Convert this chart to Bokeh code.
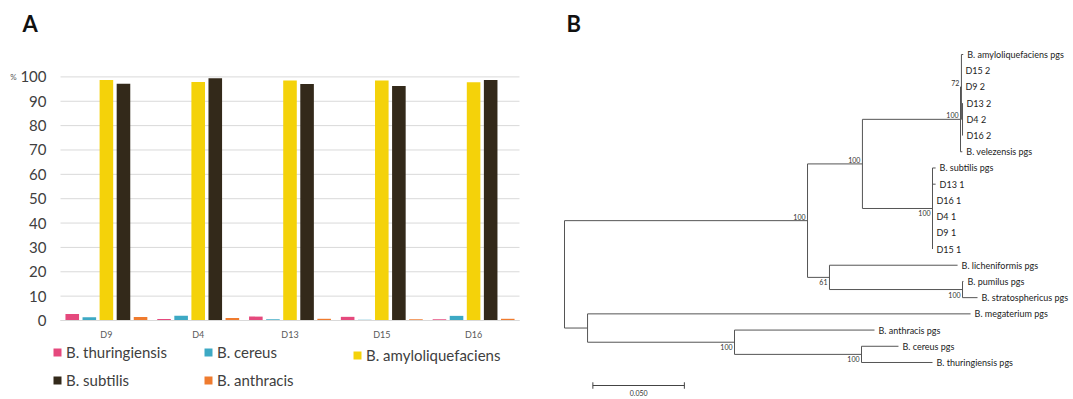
import re
from bokeh.plotting import figure
from bokeh.layouts import row
from bokeh.models import (Range1d, FixedTicker, Legend, LegendItem, Label,
                          ColumnDataSource)
from bokeh.core.properties import value
from bokeh.embed import file_html
from bokeh.resources import INLINE

# ---------------- Panel A data ----------------
samples = ["D9", "D4", "D13", "D15", "D16"]
species = ["B. thuringiensis", "B. cereus", "B. amyloliquefaciens",
           "B. subtilis", "B. anthracis"]
thuringiensis = [2.7, 0.6, 1.6, 1.5, 0.5]
cereus = [1.3, 1.9, 0.5, 0.3, 1.9]
amyloliquefaciens = [98.7, 97.9, 98.5, 98.5, 97.8]
subtilis = [97.2, 99.4, 97.1, 96.3, 98.7]
anthracis = [1.4, 1.0, 0.7, 0.5, 0.7]
y_ticks = [0, 10, 20, 30, 40, 50, 60, 70, 80, 90, 100]

series = [thuringiensis, cereus, amyloliquefaciens, subtilis, anthracis]
colors = ["#E5497D", "#3DA9C4", "#F4D20A", "#33291A", "#EF7B2E"]

# ---------------- Panel B data (Newick, branch lengths) ----------------
newick = ("((((('B. amyloliquefaciens pgs':0.001,'D15 2':0,'D9 2':0,"
          "('D13 2':0,'D4 2':0,'D16 2':0):0.0006)72:0.0005,'B. velezensis pgs':0.001)100:0.0536,"
          "('B. subtilis pgs':0.0017,'D13 1':0.0017,'D16 1':0,'D4 1':0,'D9 1':0,'D15 1':0)100:0.0383)100:0.030,"
          "('B. licheniformis pgs':0.070,('B. pumilus pgs':0.0005,'B. stratosphericus pgs':0.0082)100:0.0727)61:0.012)100:0.1328,"
          "('B. megaterium pgs':0.2093,('B. anthracis pgs':0.0765,"
          "('B. cereus pgs':0.0202,'B. thuringiensis pgs':0.0388)100:0.0694)100:0.0803):0.0126);")
support_side = ["above", "above", "above", "above", "below", "below", "below", "below", "below"]
scale_length = 0.05
scale_text = "0.050"

FONT = "Lato"

# ================= Panel A =================
WA, HA = 545, 399
left_px, right_px = 60, 519          # plot area of the bar chart
zero_px, top100_px = 320, 76.4
pxx = (right_px - left_px) / len(samples)
pxy = (zero_px - top100_px) / 100.0
pA = figure(width=WA, height=HA, output_backend="svg", toolbar_location=None,
            x_range=Range1d(-left_px / pxx, len(samples) + (WA - right_px) / pxx),
            y_range=Range1d(-(HA - zero_px) / pxy, 100 + top100_px / pxy),
            min_border=0, min_border_left=0, min_border_right=0,
            min_border_top=0, min_border_bottom=0)
pA.outline_line_color = None
pA.grid.visible = False

# horizontal gridlines over the plot area only
pA.segment(x0=[0] * len(y_ticks), x1=[len(samples)] * len(y_ticks), y0=y_ticks, y1=y_ticks,
           line_color="#D9D9D9", line_width=1, level="underlay")

n = len(species)
step, width = 0.186, 0.148
renderers = []
for k, (vals, col) in enumerate(zip(series, colors)):
    xs = [i + 0.5 + (k - (n - 1) / 2) * step for i in range(len(samples))]
    src = ColumnDataSource(dict(x=xs, top=vals))
    r = pA.vbar(x="x", top="top", width=width, bottom=0, source=src,
                fill_color=col, line_color=None)
    renderers.append(r)

pA.yaxis.fixed_location = 0
pA.yaxis.ticker = FixedTicker(ticks=y_ticks)
pA.yaxis.axis_line_color = None
pA.yaxis.major_tick_line_color = None
pA.yaxis.minor_tick_line_color = None
pA.yaxis.major_tick_out = 0
pA.yaxis.major_tick_in = 0
pA.yaxis.major_label_standoff = 14
pA.yaxis.major_label_text_font = FONT
pA.yaxis.major_label_text_font_size = "15px"
pA.yaxis.major_label_text_color = "#404040"

pA.xaxis.fixed_location = 0
pA.xaxis.bounds = (0, len(samples))
pA.xaxis.ticker = FixedTicker(ticks=[i + 0.5 for i in range(len(samples))])
pA.xaxis.major_label_overrides = {i + 0.5: s for i, s in enumerate(samples)}
pA.xaxis.axis_line_color = "#D9D9D9"
pA.xaxis.major_tick_line_color = None
pA.xaxis.minor_tick_line_color = None
pA.xaxis.major_tick_out = 0
pA.xaxis.major_tick_in = 0
pA.xaxis.major_label_standoff = 8
pA.xaxis.major_label_text_font = FONT
pA.xaxis.major_label_text_font_size = "9px"
pA.xaxis.major_label_text_color = "#595959"

# legends (three columns); location = bottom-left corner, px from frame bottom-left
cols = [[0, 3], [1, 4], [2]]
col_x = [52, 203, 352]
for ci, idxs in enumerate(cols):
    items = [LegendItem(label=species[i], renderers=[renderers[i]]) for i in idxs]
    bottom = 10.5 if len(idxs) == 2 else 35.5
    lg = Legend(items=items, location=(col_x[ci], bottom), orientation="vertical",
                glyph_width=10, glyph_height=10, label_height=15, spacing=10,
                label_standoff=4, padding=0, margin=0,
                border_line_alpha=0, background_fill_alpha=0,
                label_text_font=FONT, label_text_font_size="15px",
                label_text_color="#404040")
    pA.add_layout(lg, "center")

pA.add_layout(Label(x=(22 - left_px) / pxx, y=(zero_px - 9) / pxy, text="A", text_font=FONT,
                    text_font_size="22px", text_font_style="bold", text_baseline="top",
                    text_color="#111111"))
pA.add_layout(Label(x=(13 - left_px) / pxx, y=100, text="%", text_font=FONT,
                    text_font_size="8px", text_baseline="middle", text_align="center",
                    text_color="#595959"))

# ================= Panel B =================
def parse_newick(s):
    pos = 0

    def node():
        nonlocal pos
        children = []
        if s[pos] == "(":
            pos += 1
            while True:
                children.append(node())
                if s[pos] == ",":
                    pos += 1
                elif s[pos] == ")":
                    pos += 1
                    break
                else:
                    raise ValueError("bad newick at %d" % pos)
        if s[pos] == "'":
            end = s.index("'", pos + 1)
            label = s[pos + 1:end]
            pos = end + 1
        else:
            m = re.match(r"[^:,();]*", s[pos:])
            label = m.group(0)
            pos += len(label)
        length = 0.0
        if s[pos] == ":":
            pos += 1
            m = re.match(r"[0-9.eE+-]+", s[pos:])
            length = float(m.group(0))
            pos += len(m.group(0))
        return {"label": label, "length": length, "children": children}

    return node()

tree = parse_newick(newick)
tips, internals = [], []

def layout(nd, x0):
    nd["x"] = x0 + nd["length"]
    if nd["children"]:
        internals.append(nd)
        for c in nd["children"]:
            layout(c, nd["x"])
        nd["y"] = (nd["children"][0]["y"] + nd["children"][-1]["y"]) / 2
    else:
        nd["y"] = len(tips)
        tips.append(nd)

tree["length"] = 0.0
layout(tree, 0.0)

PXU = 1830.0   # px per unit branch length
PXT = 16.21    # px per tip row
root_px, top_px = 19, 54
WB, HB = 528, 399
pB = figure(width=WB, height=HB, output_backend="svg", toolbar_location=None,
            x_range=Range1d(-root_px / PXU, (WB - root_px) / PXU),
            y_range=Range1d((HB - top_px) / PXT, -top_px / PXT),
            min_border=0, min_border_left=0, min_border_right=0,
            min_border_top=0, min_border_bottom=0)
pB.axis.visible = False
pB.grid.visible = False
pB.outline_line_color = None

x0s, y0s, x1s, y1s = [], [], [], []
for nd in internals:
    x0s.append(nd["x"]); y0s.append(nd["children"][0]["y"])
    x1s.append(nd["x"]); y1s.append(nd["children"][-1]["y"])
    for c in nd["children"]:
        x0s.append(nd["x"]); y0s.append(c["y"])
        x1s.append(c["x"]); y1s.append(c["y"])
pB.segment(x0=x0s, y0=y0s, x1=x1s, y1=y1s, line_color="#555555", line_width=1)

pB.text(x=[t["x"] for t in tips], y=[t["y"] for t in tips], text=[t["label"] for t in tips],
        x_offset=4, text_baseline="middle", text_align="left",
        text_font=value(FONT), text_font_size="9px", text_color="#222222")

sup = [nd for nd in internals if nd["label"]]
for nd, side in zip(sup, support_side):
    pB.add_layout(Label(x=nd["x"], y=nd["y"], text=nd["label"], text_align="right",
                        x_offset=-2, y_offset=(1 if side == "above" else -2),
                        text_baseline=("bottom" if side == "above" else "top"),
                        text_font=FONT, text_font_size="7px", text_color="#333333"))

# scale bar
sb_x = 0.0155
sb_y = 20.42
pB.segment(x0=[sb_x, sb_x, sb_x + scale_length], y0=[sb_y, sb_y - 0.2, sb_y - 0.2],
           x1=[sb_x + scale_length, sb_x, sb_x + scale_length], y1=[sb_y, sb_y + 0.2, sb_y + 0.2],
           line_color="#444444", line_width=1)
pB.add_layout(Label(x=sb_x + scale_length / 2, y=sb_y + 0.3, text=scale_text,
                    text_align="center", text_baseline="top", text_font=FONT,
                    text_font_size="7px", text_color="#333333"))

pB.add_layout(Label(x=0.0011, y=-2.72, text="B", text_font=FONT, text_font_size="22px",
                    text_font_style="bold", text_baseline="top", text_color="#111111"))

layout_all = row(pA, pB, spacing=0)
open("out.html", "w").write(file_html(layout_all, INLINE))
